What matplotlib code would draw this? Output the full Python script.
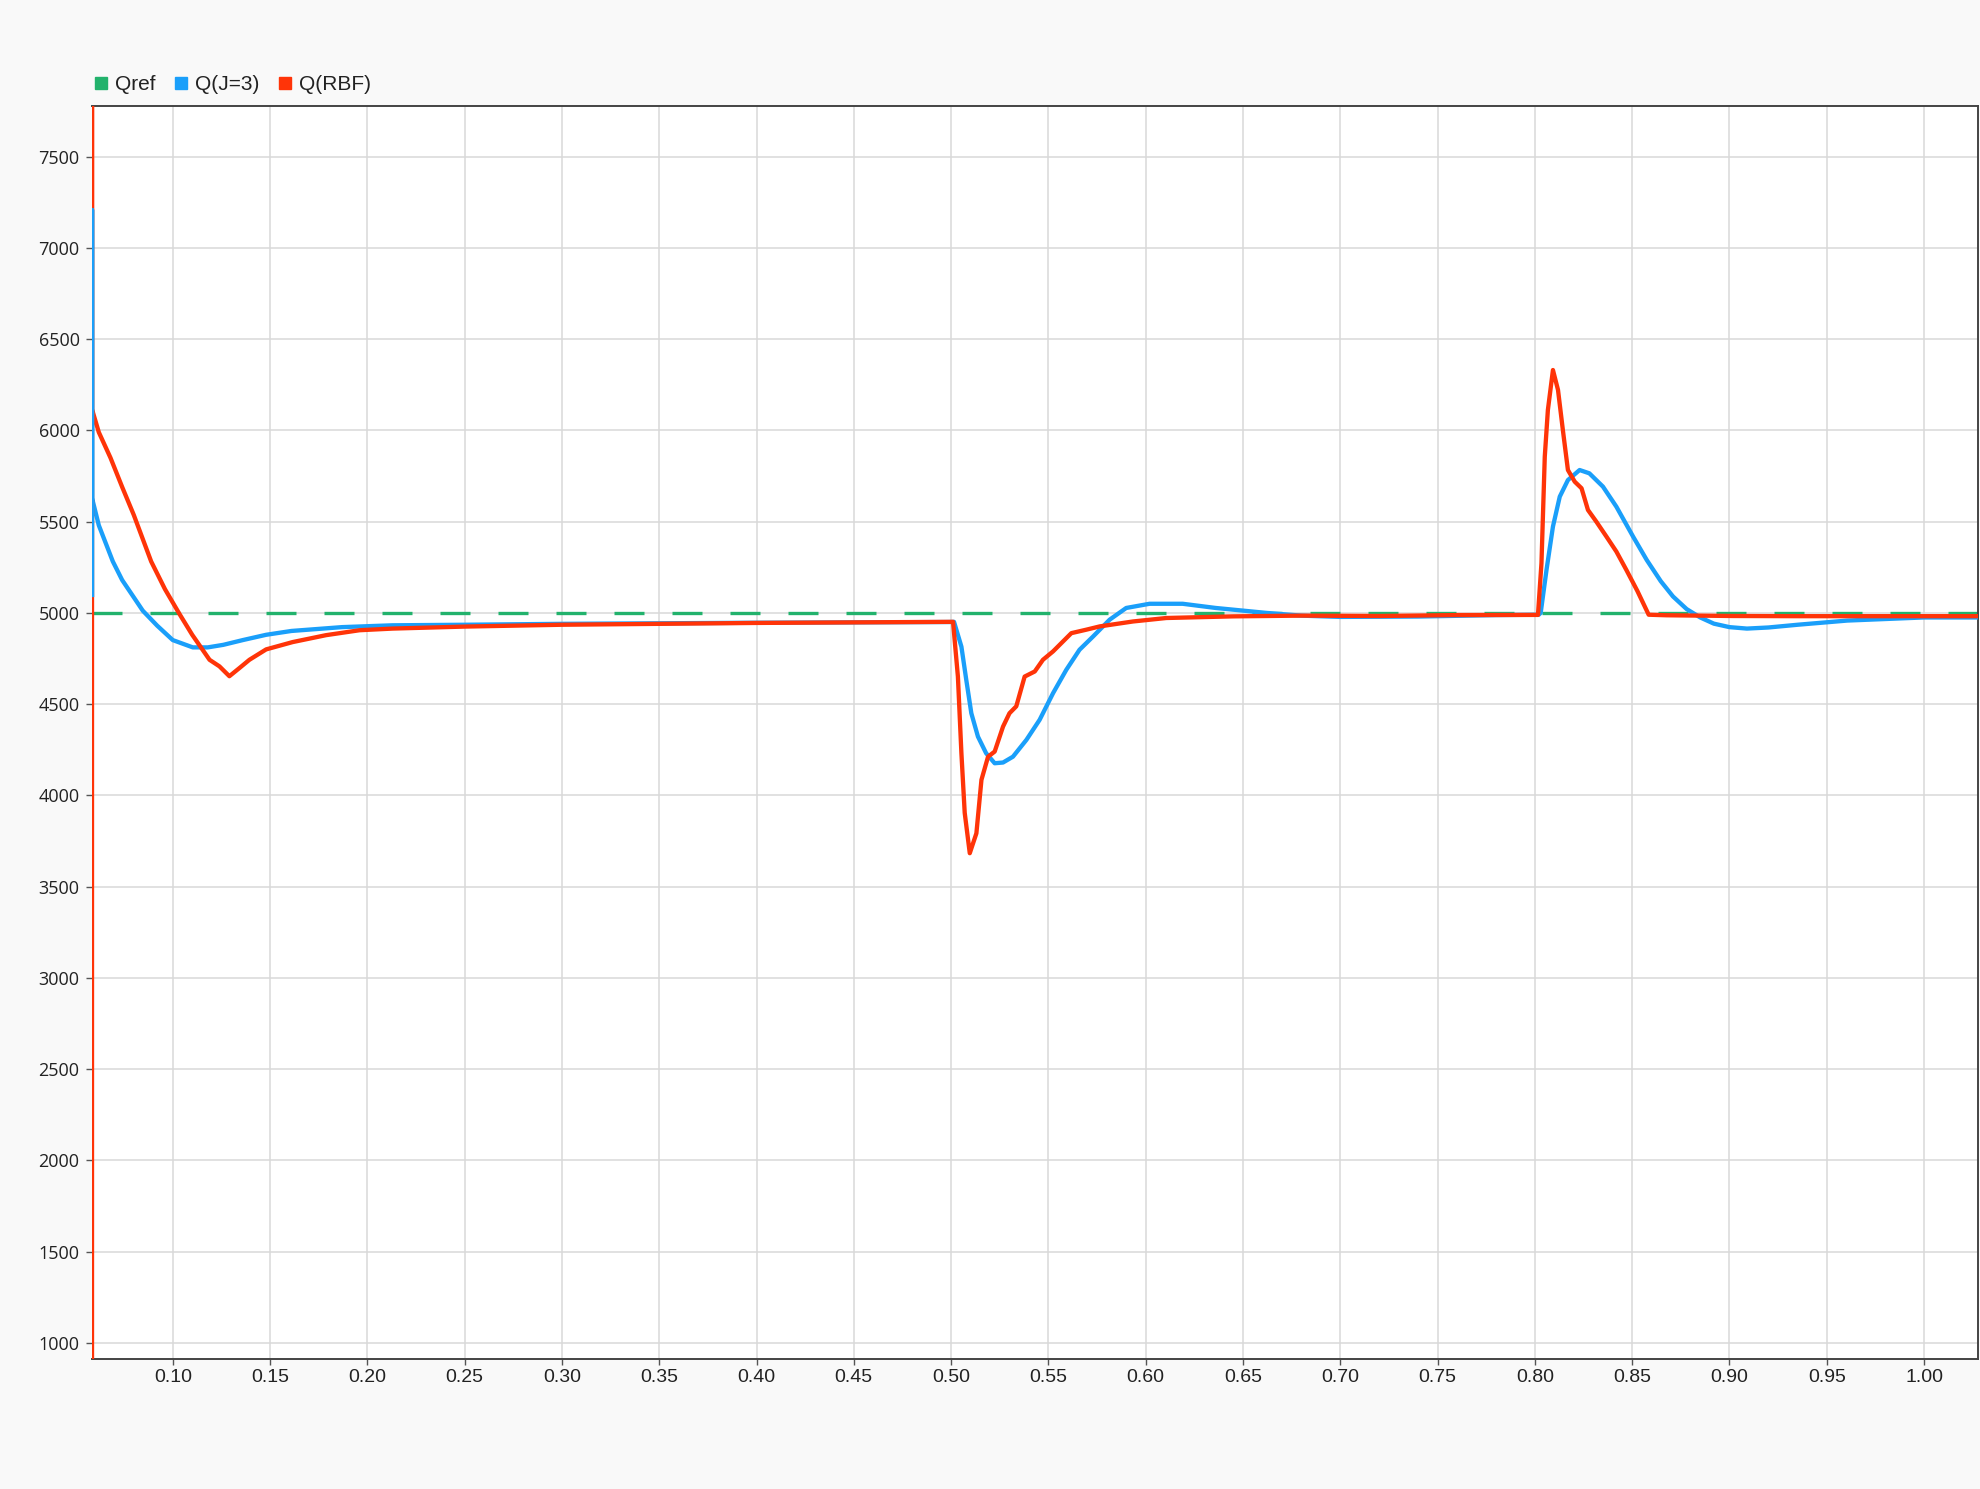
import matplotlib
matplotlib.use('Agg')
import matplotlib.pyplot as plt
from matplotlib.lines import Line2D

# time window shown in the reference
x_left, x_right = 0.0585, 1.028
y_bottom, y_top = 911, 7778

# reference value
t_ref = [x_left, x_right]
q_ref = [5000, 5000]

# Q(J=3) controller response
t_j3 = [x_left, x_left, x_left, 0.062, 0.0692, 0.074, 0.080, 0.0846, 0.092, 0.100, 0.1103,
        0.118, 0.126, 0.136, 0.148, 0.161, 0.187, 0.213, 0.25, 0.30, 0.35, 0.40, 0.45,
        0.50, 0.5015, 0.5053, 0.5078, 0.5104, 0.5138, 0.518, 0.5224, 0.5267, 0.5318,
        0.5387, 0.5455, 0.5524, 0.5592, 0.566, 0.573, 0.5815, 0.590, 0.602, 0.619,
        0.636, 0.662, 0.68, 0.70, 0.74, 0.78, 0.802, 0.803, 0.806, 0.8093, 0.8128,
        0.817, 0.823, 0.828, 0.835, 0.8419, 0.8505, 0.8575, 0.8647, 0.871, 0.878,
        0.885, 0.892, 0.900, 0.909, 0.920, 0.935, 0.9606, 1.00, x_right]
q_j3 = [5100, 7210, 5630, 5480, 5282, 5180, 5085, 5012, 4930, 4851, 4811,
        4811, 4825, 4851, 4880, 4901, 4922, 4932, 4935, 4940, 4943, 4946, 4948,
        4950, 4951, 4815, 4633, 4450, 4322, 4231, 4176, 4180, 4212,
        4304, 4414, 4560, 4688, 4798, 4871, 4963, 5027, 5050, 5050,
        5027, 5000, 4985, 4978, 4980, 4988, 4990, 5000, 5236, 5473, 5637,
        5728, 5783, 5765, 5692, 5582, 5418, 5290, 5174, 5090, 5021,
        4975, 4941, 4922, 4914, 4920, 4935, 4958, 4975, 4975]

# Q(RBF) controller response
t_rbf = [x_left, x_left, x_left, 0.062, 0.068, 0.074, 0.080, 0.0889, 0.096, 0.1034,
         0.1100, 0.1154, 0.1189, 0.124, 0.1291, 0.1343, 0.1394, 0.148, 0.1616, 0.1788,
         0.196, 0.213, 0.25, 0.30, 0.35, 0.40, 0.45, 0.501, 0.5035, 0.5053, 0.507,
         0.5096, 0.513, 0.5156, 0.519, 0.5224, 0.5267, 0.530, 0.5335, 0.5378, 0.543,
         0.5472, 0.5524, 0.5618, 0.5695, 0.5764, 0.5935, 0.6106, 0.645, 0.68, 0.72,
         0.76, 0.8016, 0.8034, 0.8051, 0.8067, 0.8093, 0.8119, 0.8144, 0.817, 0.8205,
         0.824, 0.8273, 0.8316, 0.8368, 0.8419, 0.847, 0.8527, 0.8585, 0.8676, 0.9018,
         0.936, 1.00, x_right]
q_rbf = [0, 10000, 6116, 5990, 5850, 5690, 5536, 5282, 5130, 4995,
         4880, 4797, 4743, 4707, 4653, 4698, 4743, 4800, 4840, 4878,
         4905, 4914, 4925, 4935, 4940, 4945, 4948, 4951, 4651, 4231, 3904,
         3683, 3792, 4085, 4212, 4240, 4377, 4450, 4488, 4651, 4679,
         4743, 4789, 4889, 4908, 4926, 4953, 4972, 4981, 4985, 4983,
         4988, 4989, 5272, 5856, 6112, 6331, 6222, 6002, 5783, 5719,
         5683, 5564, 5500, 5418, 5336, 5236, 5120, 4990, 4987, 4983,
         4982, 4982, 4982]

x_ticks = [0.10, 0.15, 0.20, 0.25, 0.30, 0.35, 0.40, 0.45, 0.50,
           0.55, 0.60, 0.65, 0.70, 0.75, 0.80, 0.85, 0.90, 0.95, 1.00]
y_ticks = list(range(1000, 7501, 500))

green = '#22b26c'
blue = '#1a9ffa'
red = '#ff3408'

fig = plt.figure(figsize=(19.81, 14.89), dpi=100, facecolor='#f9f9f9')
ax = fig.add_axes([92 / 1981, 1 - 1359 / 1489, (1978.5 - 92) / 1981, (1359 - 106) / 1489])
ax.set_facecolor('white')

ax.plot(t_ref, q_ref, color=green, lw=2.4, dashes=(9.0, 8.4), zorder=2)
ax.plot(t_j3, q_j3, color=blue, lw=3.1, zorder=3)
ax.plot(t_rbf, q_rbf, color=red, lw=3.1, zorder=4)
# the blue start-up spike sits on top of the red one at the left edge
ax.plot(t_j3[:3], q_j3[:3], color=blue, lw=3.1, zorder=5)

ax.set_xlim(x_left, x_right)
ax.set_ylim(y_bottom, y_top)
ax.set_xticks(x_ticks)
ax.set_xticklabels(['%.2f' % v for v in x_ticks])
ax.set_yticks(y_ticks)
ax.set_yticklabels([str(v) for v in y_ticks])

ax.grid(True, color='#d9d9d9', lw=1.1)
ax.set_axisbelow(True)
ax.tick_params(axis='both', direction='out', length=4, width=1, color='#555555',
               labelcolor='#222222')
ax.tick_params(axis='y', pad=5)
ax.tick_params(axis='x', pad=3)
for lab in ax.get_xticklabels():
    lab.set_fontfamily(['Liberation Sans', 'DejaVu Sans'])
    lab.set_fontsize(14)
for lab in ax.get_yticklabels():
    lab.set_fontfamily(['Open Sans', 'DejaVu Sans'])
    lab.set_fontsize(13)

for side in ['top', 'right', 'bottom']:
    ax.spines[side].set_color('#444444')
    ax.spines[side].set_linewidth(1.4)
ax.spines['left'].set_visible(False)

handles = [Line2D([], [], ls='none', marker='s', ms=9, mec=c, mfc=c) for c in (green, blue, red)]
fig.legend(handles, ['Qref', 'Q(J=3)', 'Q(RBF)'], loc='center left',
           bbox_to_anchor=(94.8 / 1981, 1 - 84.6 / 1489), ncol=3, frameon=False,
           prop={'family': ['Liberation Sans', 'DejaVu Sans'], 'size': 15},
           handlelength=0.6, handletextpad=0.37, columnspacing=0.92,
           borderpad=0, borderaxespad=0, labelcolor='#222222')

fig.savefig('out.png', dpi=100, facecolor=fig.get_facecolor())
